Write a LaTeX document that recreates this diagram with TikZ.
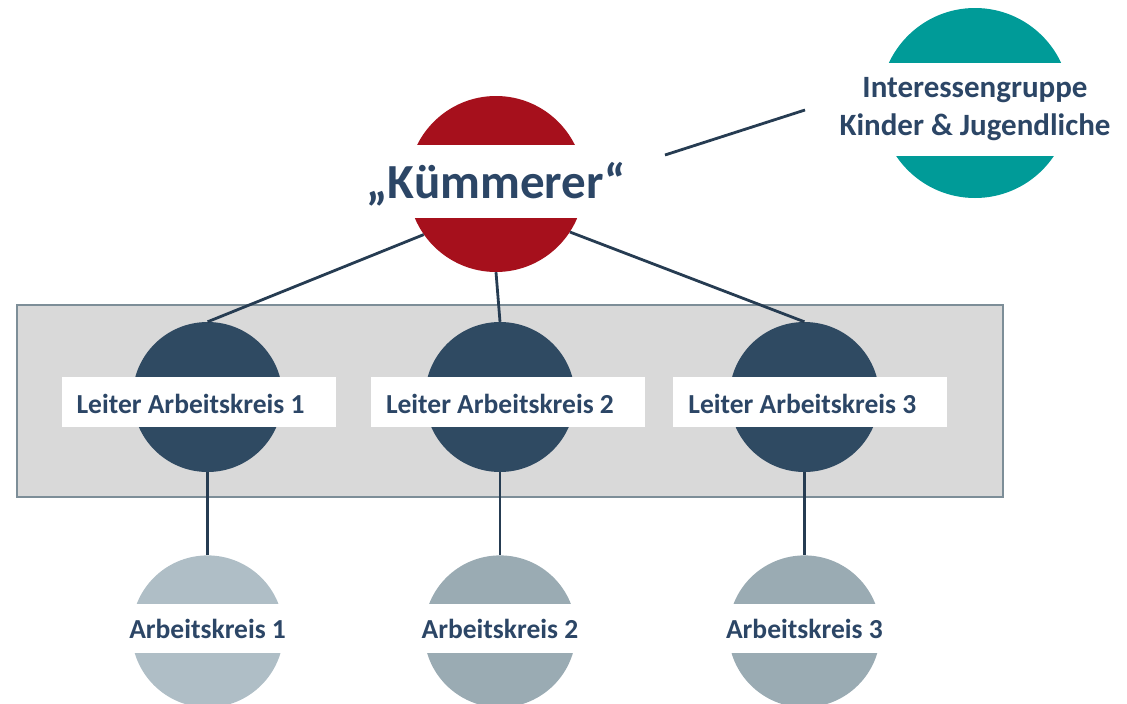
\documentclass[tikz,border=0pt]{standalone}
\usepackage{fontspec}
\setmainfont{Carlito}
\usetikzlibrary{positioning}

\definecolor{kred}{RGB}{166,16,28}
\definecolor{kteal}{RGB}{0,155,152}
\definecolor{knavy}{RGB}{47,74,98}
\definecolor{kpale}{RGB}{175,190,198}
\definecolor{kslate}{RGB}{154,171,179}
\definecolor{ktext}{RGB}{44,70,102}
\definecolor{kline}{RGB}{38,60,82}
\definecolor{kpanel}{RGB}{217,217,217}
\definecolor{krim}{RGB}{125,142,152}

\begin{document}
\begin{tikzpicture}[x=1pt,y=-1pt,
  blob/.style={circle,inner sep=0pt,minimum size=#1},
  band/.style={fill=white,inner sep=0pt,text=ktext},
  tag/.style={fill=white,inner sep=0pt,inner xsep=15pt,text=ktext,text width=244pt,align=flush left,
    minimum height=50pt,text height=24pt,text depth=2pt,font=\fontsize{27.5}{33}\selectfont\bfseries},
  link/.style={draw=kline,line width=2.8pt}]
\useasboundingbox (0,0) rectangle (1127,704);

% grey frame round the leaders
\draw[fill=kpanel,draw=krim,line width=2.5pt] (17,305) rectangle (1003,497);

\node[blob=176pt,fill=kred] (kue) at (496,184) {};
\node[blob=190pt,fill=kteal] (ig) at (975,103) {};

\node[blob=150pt,fill=knavy] (l2) at (500,397) {};
\node[blob=150pt,fill=knavy,left=142pt of l2] (l1) {};
\node[blob=150pt,fill=knavy,right=154pt of l2] (l3) {};

\node[blob=152pt,fill=kpale,below=83pt of l1] (ak1) {};
\node[blob=152pt,fill=kslate,below=83pt of l2] (ak2) {};
\node[blob=152pt,fill=kslate,below=83pt of l3] (ak3) {};

% white bands with the names
\node[band,minimum width=176pt,minimum height=73pt,text height=36pt,text depth=3pt,
  font=\fontsize{49}{58}\selectfont\bfseries,yshift=2.5pt] (kueName) at (kue) {„Kümmerer“};
\node[band,minimum width=190pt,minimum height=93pt,align=center,
  font=\fontsize{31}{38}\selectfont\bfseries,yshift=-6pt] (igName) at (ig) {Interessengruppe\\Kinder \& Jugendliche};

\node[tag,xshift=-9pt,yshift=-5pt] (l1Name) at (l1) {Leiter Arbeitskreis 1};
\node[tag,xshift=8pt,yshift=-5pt] (l2Name) at (l2) {Leiter Arbeitskreis 2};
\node[tag,xshift=6pt,yshift=-5pt] (l3Name) at (l3) {Leiter Arbeitskreis 3};

\foreach \i in {1,2,3}
  \node[band,minimum width=152pt,minimum height=49pt,text height=21pt,text depth=2pt,
    font=\fontsize{27.5}{33}\selectfont\bfseries,yshift=2.5pt] (ak\i Name) at (ak\i) {Arbeitskreis \i};

% connectors
\draw[link] (kue.215) -- (l1.north);
\draw[link] (kue.south) -- (l2.north);
\draw[link] (kue.327) -- (l3.north);
\foreach \i in {1,2,3}
  \draw[link] (l\i) -- (ak\i);

\coordinate (kueEnd) at (665,155);
\coordinate (igEnd) at (805,110);
\draw[link] (kueEnd) -- (igEnd);
\end{tikzpicture}
\end{document}
